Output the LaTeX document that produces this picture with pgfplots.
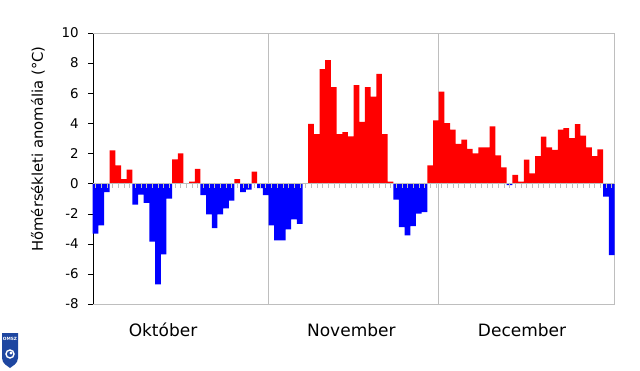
\documentclass[border=0pt]{standalone}
\usepackage{pgfplots}
\pgfplotsset{compat=1.18}
\usepackage{fontspec}
\setmainfont{DejaVu Sans}
\definecolor{barred}{RGB}{255,0,0}
\definecolor{barblue}{RGB}{0,0,255}
\definecolor{framegray}{RGB}{190,190,190}
\definecolor{logoblue}{RGB}{30,70,160}
\begin{document}
\begin{tikzpicture}
\useasboundingbox (0,0) rectangle (640pt,370pt);
\begin{axis}[
  at={(92.7pt,66pt)}, anchor=south west,
  scale only axis, width=521.8pt, height=271pt,
  xmin=0, xmax=92, ymin=-8, ymax=10,
  axis y line*=left, axis x line*=bottom,
  y axis line style={black}, x axis line style={framegray},
  ytick={-8,-6,...,10},
  tick align=outside, major tick length=4.5pt,
  ytick style={black},
  xtick={12.4,45.6,75.7},
  xticklabels={Október,November,December},
  xtick style={draw=none},
  xticklabel style={font=\fontsize{17}{17}\selectfont, anchor=base, yshift=-27.5pt},
  yticklabel style={font=\fontsize{13.4}{13.4}\selectfont, xshift=-6pt},
  /pgf/number format/assume math mode=true,
  ylabel={Hőmérsékleti anomália (°C)},
  every axis y label/.style={at={(axis description cs:-0.105,0.572)}, rotate=90, anchor=center, font=\fontsize{14.8}{14.8}\selectfont},
  clip=false,
]
\draw[framegray] (axis cs:31,-8) -- (axis cs:31,10);
\draw[framegray] (axis cs:61,-8) -- (axis cs:61,10);
\draw[framegray] (rel axis cs:0,1) -- (rel axis cs:1,1) -- (rel axis cs:1,0);
\addplot[ybar, bar width=1, bar shift=0pt, draw=none, fill=barred] coordinates {
 (3.5,2.2) (4.5,1.2) (5.5,0.3) (6.5,0.93) (14.5,1.6) (15.5,2.0) (17.5,0.13) (18.5,0.97) (25.5,0.3) (28.5,0.8)
 (38.5,3.97) (39.5,3.29) (40.5,7.6) (41.5,8.2) (42.5,6.4) (43.5,3.29) (44.5,3.42) (45.5,3.13) (46.5,6.53) (47.5,4.1)
 (48.5,6.4) (49.5,5.78) (50.5,7.28) (51.5,3.29) (52.5,0.13) (59.5,1.21) (60.5,4.19)
 (61.5,6.11) (62.5,4.02) (63.5,3.58) (64.5,2.63) (65.5,2.91) (66.5,2.3) (67.5,2.0) (68.5,2.4) (69.5,2.4) (70.5,3.8)
 (71.5,1.88) (72.5,1.08) (74.5,0.57) (75.5,0.13) (76.5,1.59) (77.5,0.68) (78.5,1.83) (79.5,3.11) (80.5,2.4)
 (81.5,2.23) (82.5,3.58) (83.5,3.69) (84.5,3.02) (85.5,3.95) (86.5,3.18) (87.5,2.4) (88.5,1.83) (89.5,2.27)
};
\addplot[ybar, bar width=1, bar shift=0pt, draw=none, fill=barblue] coordinates {
 (0.5,-3.33) (1.5,-2.78) (2.5,-0.57) (7.5,-1.4) (8.5,-0.73) (9.5,-1.28) (10.5,-3.86) (11.5,-6.7) (12.5,-4.7) (13.5,-1.0)
 (19.5,-0.77) (20.5,-2.05) (21.5,-2.96) (22.5,-2.05) (23.5,-1.65) (24.5,-1.13) (26.5,-0.57) (27.5,-0.4) (29.5,-0.3) (30.5,-0.77)
 (31.5,-2.78) (32.5,-3.77) (33.5,-3.77) (34.5,-3.05) (35.5,-2.38) (36.5,-2.67)
 (53.5,-1.06) (54.5,-2.89) (55.5,-3.44) (56.5,-2.83) (57.5,-1.99) (58.5,-1.9)
 (73.5,-0.11) (90.5,-0.86) (91.5,-4.75)
};
\draw[framegray] (axis cs:0,0) -- (axis cs:92,0);
\pgfplotsinvokeforeach{0,...,91}{\draw[framegray] (axis cs:#1.5,0) ++(0pt,1pt) -- ++(0pt,-5pt);}
\end{axis}
% OMSZ logo
\fill[logoblue] (2pt,37pt) -- (18pt,37pt) -- (18pt,12pt) .. controls (18pt,6pt) and (12pt,4pt) .. (10pt,2pt) .. controls (8pt,4pt) and (2pt,6pt) .. (2pt,12pt) -- cycle;
\node[white, font=\fontsize{4.3}{4.3}\selectfont\bfseries, inner sep=0pt] at (10pt,31pt) {OMSZ};
\draw[white, line width=1.4pt] (10pt,16pt) circle (4pt);
\fill[white] (11pt,17pt) circle (1.6pt);
\end{tikzpicture}
\end{document}
